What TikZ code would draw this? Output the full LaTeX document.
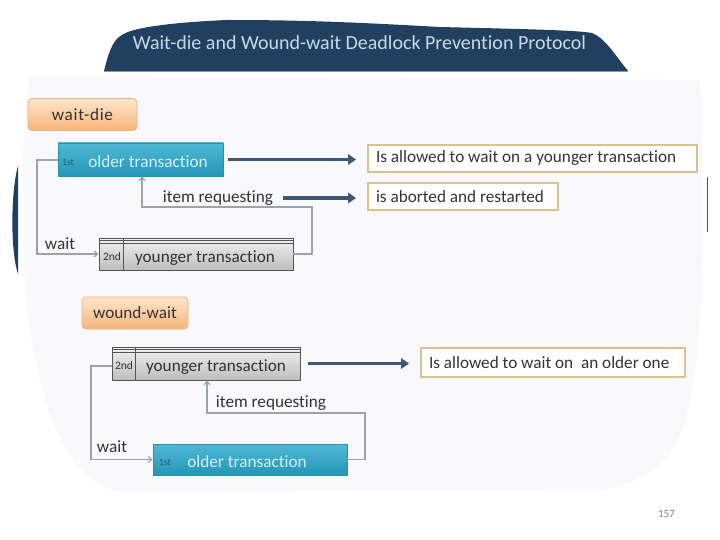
\documentclass[tikz,border=0pt]{standalone}
\usepackage{fontspec}
\setmainfont{Carlito}[Ligatures=NoCommon]
\usetikzlibrary{arrows.meta,calc}
\definecolor{navy}{HTML}{213F5E}
\definecolor{titletext}{HTML}{C9D8E6}
\definecolor{blobfill}{HTML}{F9F9FB}
\definecolor{orangetop}{HTML}{FDE6CC}
\definecolor{orangebot}{HTML}{F6B57A}
\definecolor{orangeedge}{HTML}{E8B27E}
\definecolor{tealtop}{HTML}{4FB8D6}
\definecolor{tealbot}{HTML}{2596B6}
\definecolor{tealedge}{HTML}{2A8FAE}
\definecolor{tealtext}{HTML}{D6F1FA}
\definecolor{tealsmall}{HTML}{1E5F78}
\definecolor{greytop}{HTML}{F2F2F2}
\definecolor{greybot}{HTML}{BDBDBD}
\definecolor{greyedge}{HTML}{555555}
\definecolor{tanedge}{HTML}{DCC08E}
\definecolor{darktext}{HTML}{333333}
\definecolor{arrowblue}{HTML}{3B5876}
\definecolor{connector}{HTML}{9AA4AE}
\begin{document}
\begin{tikzpicture}[x=1pt,y=-1pt,
  txt/.style={font=\fontsize{17.2}{20}\selectfont, text=darktext, inner sep=0pt},
  small/.style={font=\fontsize{9.5}{10}\selectfont, inner sep=0pt},
  smallg/.style={font=\fontsize{11.5}{12}\selectfont, inner sep=0pt, text=darktext},
  labelbox/.style={draw=orangeedge, line width=0.8pt, rounded corners=4pt,
    top color=orangetop, bottom color=orangebot, minimum height=32pt,
    font=\fontsize{17.2}{20}\selectfont, text=darktext, inner sep=0pt},
  tealbox/.style={draw=tealedge, line width=0.6pt, top color=tealtop, bottom color=tealbot, inner sep=0pt},
  greybox/.style={draw=greyedge, line width=0.9pt, top color=greytop, bottom color=greybot, inner sep=0pt},
  resbox/.style={draw=tanedge, line width=1.6pt, fill=white, inner xsep=8pt, inner ysep=0pt,
    font=\fontsize{17.2}{20}\selectfont, text=darktext},
  bigarrow/.style={draw=arrowblue, line width=3.2pt, -{Triangle[length=8pt,width=10pt]}},
  thinline/.style={draw=connector, line width=1.2pt},
  thinarrow/.style={thinline, -{Straight Barb[length=3.5pt,width=6pt]}},
  divider/.style={draw=greyedge, line width=0.7pt}
]
\useasboundingbox (0,0) rectangle (720,540);
% faint background blob
\fill[blobfill] (30,76) -- (700,80) .. controls (706,200) and (704,330) .. (690,400)
  .. controls (680,450) and (660,480) .. (600,490) -- (120,492)
  .. controls (70,480) and (40,420) .. (26,300) .. controls (20,220) and (22,120) .. (30,76) -- cycle;
% left dark sliver
\fill[navy] (18,166) .. controls (11,190) and (10,250) .. (18,274) -- cycle;
% right thin line
\draw[greyedge, line width=0.8pt] (707,177) -- (707,232);
% title banner
\fill[navy] (104,71) .. controls (108,55) and (112,40) .. (122,35)
  .. controls (130,29) and (160,23) .. (227,20)
  .. controls (300,20) and (350,22) .. (440,27)
  .. controls (520,29) and (575,30) .. (592,33)
  .. controls (605,38) and (615,55) .. (628,71) -- cycle;
\draw[titletext!60!navy, line width=0.6pt] (104,71) -- (628,71);
\node[font=\fontsize{20}{24}\selectfont, text=titletext, inner sep=0pt] (title) at (359.5,43)
  {Wait-die and Wound-wait Deadlock Prevention Protocol};

% ---------- wait-die ----------
\node[labelbox, minimum width=109pt] (wdlabel) at (82.5,114.5) {\addfontfeature{LetterSpace=4}wait-die};
\node[tealbox, minimum width=165pt, minimum height=33pt] (wdolder) at (140.5,159.5) {};
\node[small, text=tealsmall] (wdolder1) at (68,162) {1st};
\node[txt, text=tealtext] (wdoldertxt) at (148,162) {older transaction};
\node[greybox, minimum width=194pt, minimum height=32pt] (wdyounger) at (196,254) {};
\draw[divider] ($(wdyounger.north west)+(0,3)$) -- ($(wdyounger.north east)+(0,3)$);
\draw[divider] ($(wdyounger.north west)+(0,6)$) -- ($(wdyounger.north east)+(0,6)$);
\draw[divider] ($(wdyounger.north west)+(25,0)$) -- ($(wdyounger.south west)+(25,0)$);
\node[smallg] (wdyounger2) at (112,257) {2nd};
\node[txt] (wdyoungertxt) at (205,258) {younger transaction};
\node[resbox, minimum width=329pt, minimum height=27pt] (wdres1) at (532.5,158.5) {\makebox[313pt][l]{Is allowed to wait on a younger transaction}};
\node[resbox, minimum width=190pt, minimum height=27pt] (wdres2) at (463,196.5) {\makebox[174pt][l]{is aborted and restarted}};
\node[txt] (wdwait) at (60,244) {wait};
\node[txt] (wdreq) at (218,198) {item requesting};
\coordinate (wdr) at (312,207);
\coordinate (wdk) at (142,207);
\coordinate (wdl) at (37,160);
\draw[thinarrow] (wdolder.west |- wdl) -- (wdl) |- (wdyounger.west);
\draw[thinarrow] (wdyounger.east) -| (wdr) -- (wdk) -- (wdk |- wdolder.south);
\draw[bigarrow, shorten >=11pt] ($(wdolder.east)+(5,0)$) -- (wdolder.east -| wdres1.west);
\draw[bigarrow, shorten >=11pt] ($(wdreq.east)+(10,0)$) -- (wdreq.east -| wdres2.west);

% ---------- wound-wait ----------
\node[labelbox, minimum width=106pt] (wwlabel) at (135,313) {wound-wait};
\node[greybox, minimum width=188pt, minimum height=33pt] (wwyounger) at (206,363.5) {};
\draw[divider] ($(wwyounger.north west)+(0,3)$) -- ($(wwyounger.north east)+(0,3)$);
\draw[divider] ($(wwyounger.north west)+(0,6)$) -- ($(wwyounger.north east)+(0,6)$);
\draw[divider] ($(wwyounger.north west)+(24,0)$) -- ($(wwyounger.south west)+(24,0)$);
\node[smallg] (wwyounger2) at (124,366) {2nd};
\node[txt] (wwyoungertxt) at (216,367) {younger transaction};
\node[tealbox, minimum width=194pt, minimum height=31pt] (wwolder) at (250,459.5) {};
\node[small, text=tealsmall] (wwolder1) at (165,462) {1st};
\node[txt, text=tealtext] (wwoldertxt) at (247,462) {older transaction};
\node[resbox, minimum width=264pt, minimum height=29pt] (wwres) at (553,362.5) {\makebox[248pt][l]{Is allowed to wait on\ \ an older one}};
\node[txt] (wwwait) at (112,447) {wait};
\node[txt] (wwreq) at (271,403) {item requesting};
\coordinate (wwr) at (365,413);
\coordinate (wwk) at (207,413);
\coordinate (wwl) at (91,366);
\draw[thinarrow] (wwyounger.west |- wwl) -- (wwl) |- (wwolder.west);
\draw[thinarrow] (wwolder.east) -| (wwr) -- (wwk) -- (wwk |- wwyounger.south);
\draw[bigarrow, shorten >=11pt] ($(wwyounger.east)+(8,0)$) -- (wwyounger.east -| wwres.west);

% page number
\node[font=\fontsize{11}{12}\selectfont, text=gray, inner sep=0pt] (page) at (666.5,514) {157};
\end{tikzpicture}
\end{document}
